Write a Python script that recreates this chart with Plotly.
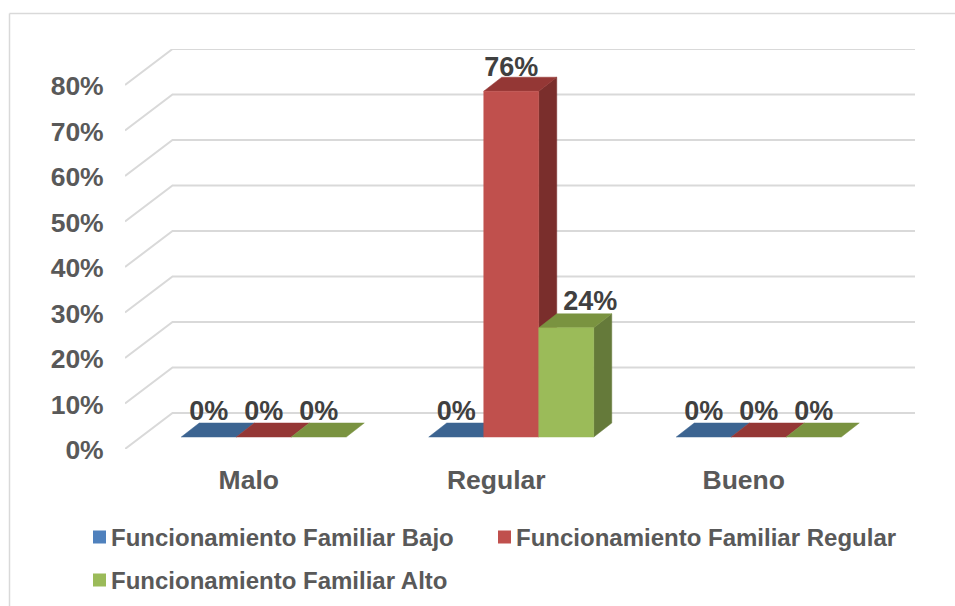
import plotly.graph_objects as go

categories = ["Malo", "Regular", "Bueno"]
series_names = ["Funcionamiento Familiar Bajo", "Funcionamiento Familiar Regular", "Funcionamiento Familiar Alto"]
values_bajo = [0, 0, 0]
values_regular = [0, 76, 0]
values_alto = [0, 24, 0]
y_ticks = [0, 10, 20, 30, 40, 50, 60, 70, 80]
y_tick_labels = ["0%", "10%", "20%", "30%", "40%", "50%", "60%", "70%", "80%"]

FONT = "Liberation Sans"
W, H = 955, 606
ML, MR, MT, MB = 125, 40, 49, 157
PW, PH = W - ML - MR, H - MT - MB
PX_X = 247.5      # pixels per category
PX_Y = 4.55       # pixels per percent
BAR_W = 55 / PX_X
SHIFT_X, BASE_Y = 15.0 / PX_X, 12 / PX_Y     # bar position on the floor
DEPTH_X, DEPTH_Y = 18 / PX_X, 14 / PX_Y       # bar depth
WALL_X, WALL_Y = 47.5 / PX_X, 36 / PX_Y       # floor depth
X0 = -0.5
X1 = X0 + PW / PX_X
Y1 = PH / PX_Y

front = ["#4F81BD", "#C0504D", "#9BBB59"]
top = ["#3C6491", "#943735", "#7A9340"]
side = ["#325379", "#7A2E2C", "#657A3A"]
label_dx = {(1, 2): 24 / PX_X}
label_gap = {(1, 1): 22, (1, 2): 25}
DEFAULT_GAP = 24


def px(x):
    return (x - ML) / PW


def py(y):
    return 1 - (y - MT) / PH


fig = go.Figure()

# wall and floor grid lines
gx, gy = [], []
for v in y_ticks:
    gx += [X0, X0 + WALL_X, X1, None]
    gy += [v, v + WALL_Y, v + WALL_Y, None]
fig.add_trace(go.Scatter(x=gx, y=gy, mode="lines", line=dict(color="#D9D9D9", width=2),
                         hoverinfo="skip", showlegend=False))


def poly(xs, ys, color):
    fig.add_trace(go.Scatter(x=xs + xs[:1], y=ys + ys[:1], mode="lines", fill="toself", fillcolor=color,
                             line=dict(color=color, width=0.5), hoverinfo="skip", showlegend=False))


all_values = [values_bajo, values_regular, values_alto]
lx, ly, lt = [], [], []
for c in range(len(categories)):
    for s, vals in enumerate(all_values):
        v = vals[c]
        xl = c + SHIFT_X + (s - 1.5) * BAR_W
        xr = xl + BAR_W
        yb = BASE_Y
        yt = BASE_Y + v
        if v > 0:
            poly([xr, xr + DEPTH_X, xr + DEPTH_X, xr], [yb, yb + DEPTH_Y, yt + DEPTH_Y, yt], side[s])
        poly([xl, xr, xr + DEPTH_X, xl + DEPTH_X], [yt, yt, yt + DEPTH_Y, yt + DEPTH_Y], top[s])
        if v > 0:
            poly([xl, xr, xr, xl], [yb, yb, yt, yt], front[s])
        lx.append((xl + xr) / 2 + label_dx.get((c, s), 0))
        ly.append(yt + label_gap.get((c, s), DEFAULT_GAP) / PX_Y)
        lt.append(f"{v}%")

fig.add_trace(go.Scatter(x=lx, y=ly, text=lt, mode="text", textposition="middle center",
                         textfont=dict(family=FONT, size=27, color="#404040", weight="bold"),
                         hoverinfo="skip", showlegend=False))

# legend drawn as swatch + text so the gap between them can be matched
legend_pos = [(93, 537), (498, 537), (93, 580)]
shapes = [
    dict(type="line", xref="paper", yref="paper", layer="below",
         x0=px(9.5), x1=px(W), y0=py(13.5), y1=py(13.5), line=dict(color="#D9D9D9", width=1.5)),
    dict(type="line", xref="paper", yref="paper", layer="below",
         x0=px(9.5), x1=px(9.5), y0=py(13.5), y1=py(H), line=dict(color="#D9D9D9", width=1.5)),
]
annotations = []
for s, name in enumerate(series_names):
    lxp, lyp = legend_pos[s]
    shapes.append(dict(type="rect", xref="paper", yref="paper", x0=px(lxp), x1=px(lxp + 13),
                       y0=py(lyp - 6.5), y1=py(lyp + 6.5), fillcolor=front[s], line=dict(width=0)))
    annotations.append(dict(xref="paper", yref="paper", x=px(lxp + 16), y=py(lyp), text=name, showarrow=False,
                            xanchor="left", yanchor="middle",
                            font=dict(family=FONT, size=24, color="#595959", weight="bold")))

axis_font = dict(family=FONT, size=26.5, color="#595959", weight="bold")
fig.update_layout(
    width=W, height=H, autosize=False,
    margin=dict(l=ML, r=MR, t=MT, b=MB),
    paper_bgcolor="white", plot_bgcolor="white",
    font=dict(family=FONT),
    showlegend=False,
    xaxis=dict(range=[X0, X1], tickvals=list(range(len(categories))), ticktext=categories,
               showgrid=False, zeroline=False, showline=False, ticks="outside", ticklen=7,
               tickcolor="rgba(0,0,0,0)", fixedrange=True, tickfont=axis_font),
    yaxis=dict(range=[0, Y1], tickvals=y_ticks, ticktext=y_tick_labels,
               showgrid=False, zeroline=False, showline=False, ticks="outside", ticklen=15,
               ticklabelshift=1,
               tickcolor="rgba(0,0,0,0)", fixedrange=True, tickfont=axis_font),
    shapes=shapes,
    annotations=annotations,
)
fig.write_html("out.html", config=dict(displayModeBar=False),
               post_script="document.body.style.margin='0';document.documentElement.style.overflow='hidden';")
